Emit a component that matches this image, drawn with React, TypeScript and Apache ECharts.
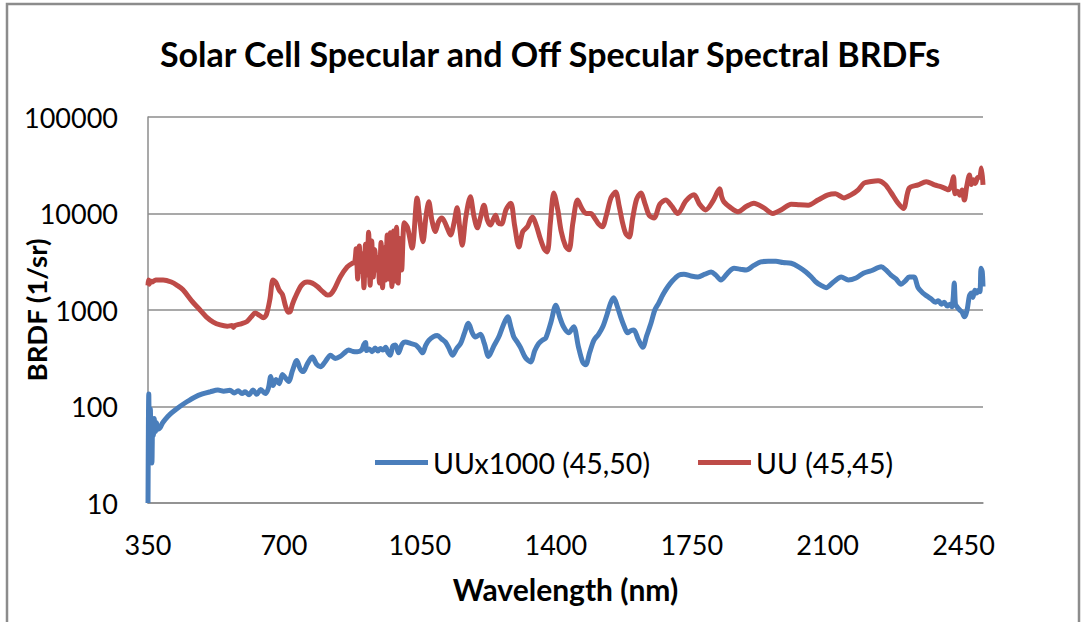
import React, { useEffect, useRef } from "react";
import * as echarts from "echarts";

const titleText = "Solar Cell Specular and Off Specular Spectral BRDFs";
const xAxisName = "Wavelength (nm)";
const yAxisName = "BRDF (1/sr)";
const xTicks = [350, 700, 1050, 1400, 1750, 2100, 2450];
const yTicks = [10, 100, 1000, 10000, 100000];
const blueName = "UUx1000 (45,50)";
const redName = "UU (45,45)";

const blueData: [number, number][] = [
  [350, 10], [351, 60], [352, 135], [353, 70], [355, 45], [356, 95], [358, 40], [360, 26], [362, 72], [364, 50],
  [366, 75], [369, 55], [372, 68], [376, 58], [381, 60], [388, 68], [395, 74], [405, 82], [420, 92], [432, 100],
  [450, 112], [470, 125], [490, 135], [510, 142], [530, 148], [545, 144], [561, 147], [572, 138], [582, 146], [592, 136],
  [600, 142], [610, 132], [620, 148], [630, 134], [640, 150], [652, 136], [660, 155], [666, 205], [672, 165], [680, 190],
  [688, 172], [696, 215], [703, 200], [712, 182], [722, 235], [733, 300], [742, 245], [750, 230], [760, 275], [773, 325],
  [784, 275], [794, 258], [806, 290], [820, 340], [832, 315], [845, 330], [856, 360], [866, 385], [878, 372], [889, 370],
  [900, 385], [906, 440], [910, 460], [913, 380], [920, 395], [927, 370], [935, 405], [942, 375], [948, 400], [955, 385],
  [962, 410], [968, 360], [974, 340], [980, 420], [987, 435], [995, 360], [1004, 440], [1013, 465], [1026, 450], [1039, 435],
  [1048, 400], [1057, 360], [1065, 430], [1073, 485], [1085, 530], [1095, 545], [1106, 500], [1116, 465], [1125, 400], [1134, 340],
  [1145, 400], [1155, 450], [1165, 580], [1175, 730], [1185, 580], [1193, 525], [1206, 560], [1216, 450], [1227, 330], [1240, 420],
  [1253, 525], [1265, 700], [1276, 850], [1285, 650], [1292, 525], [1300, 470], [1309, 410], [1322, 320], [1335, 290], [1346, 380],
  [1356, 450], [1366, 490], [1374, 510], [1388, 760], [1400, 1120], [1410, 850], [1420, 670], [1433, 580], [1446, 670], [1458, 420],
  [1469, 290], [1477, 270], [1487, 360], [1498, 485], [1510, 560], [1521, 670], [1532, 900], [1541, 1180], [1549, 1340], [1558, 1100],
  [1567, 850], [1576, 680], [1585, 580], [1593, 610], [1601, 620], [1612, 500], [1624, 410], [1634, 540], [1645, 730], [1655, 1000],
  [1665, 1180], [1676, 1450], [1688, 1730], [1700, 2000], [1717, 2300], [1730, 2350], [1748, 2250], [1766, 2200], [1784, 2350], [1800, 2470],
  [1812, 2300], [1825, 2050], [1842, 2400], [1859, 2700], [1875, 2650], [1890, 2600], [1910, 2900], [1928, 3150], [1947, 3200], [1967, 3200],
  [1985, 3100], [2006, 3050], [2025, 2800], [2044, 2480], [2058, 2200], [2070, 1950], [2083, 1800], [2096, 1700], [2115, 1950], [2135, 2200],
  [2153, 2050], [2173, 2150], [2192, 2400], [2212, 2550], [2238, 2800], [2250, 2600], [2263, 2300], [2276, 2100], [2289, 1850], [2300, 2000],
  [2310, 2200], [2322, 2200], [2333, 1700], [2345, 1500], [2355, 1400], [2367, 1300], [2378, 1200], [2385, 1250], [2393, 1150], [2400, 1200],
  [2408, 1100], [2415, 1150], [2420, 1080], [2423, 1300], [2426, 1900], [2429, 1150], [2433, 1080], [2440, 1000], [2446, 950], [2452, 850],
  [2456, 900], [2460, 1050], [2465, 1400], [2470, 1500], [2474, 1350], [2479, 1600], [2484, 1500], [2488, 1600], [2492, 1550], [2495, 2700],
  [2498, 2500], [2500, 1750],
];

const redData: [number, number][] = [
  [350, 1800], [351, 2050], [353, 1850], [356, 2000], [360, 1950], [370, 2050], [389, 2050], [410, 1950], [425, 1800], [440, 1620],
  [462, 1250], [484, 1000], [500, 850], [518, 750], [536, 700], [554, 680], [566, 690], [570, 660], [574, 690], [590, 720],
  [605, 760], [616, 850], [626, 930], [637, 880], [647, 830], [655, 900], [664, 1300], [672, 2050], [680, 1900], [688, 1600],
  [696, 1450], [704, 1100], [711, 950], [716, 960], [722, 1150], [729, 1350], [745, 1800], [760, 1950], [773, 1900], [786, 1750],
  [800, 1550], [812, 1430], [820, 1450], [830, 1650], [845, 2200], [863, 2800], [876, 3050], [882, 3100], [886, 4300], [890, 2100],
  [894, 4600], [898, 2500], [902, 3800], [906, 1700], [910, 4800], [914, 2300], [918, 6400], [922, 1800], [926, 5200], [930, 2200],
  [934, 4200], [938, 2600], [942, 3500], [946, 1900], [950, 5000], [954, 1700], [958, 4400], [962, 2050], [966, 6000], [970, 2100],
  [974, 6300], [978, 1750], [982, 6600], [986, 2000], [990, 7200], [994, 1900], [998, 5500], [1003, 2600], [1010, 8000], [1018, 7200],
  [1030, 4400], [1043, 14500], [1050, 8500], [1058, 5100], [1066, 9500], [1073, 13200], [1081, 8500], [1090, 6500], [1098, 8200], [1107, 9000],
  [1118, 7500], [1129, 6000], [1138, 8000], [1146, 11500], [1152, 7500], [1159, 4700], [1168, 9000], [1180, 14900], [1189, 9500], [1198, 7100],
  [1206, 9000], [1215, 12200], [1224, 8500], [1232, 7600], [1238, 8500], [1245, 9600], [1252, 8000], [1260, 7800], [1272, 11000], [1284, 12800],
  [1294, 7500], [1305, 4500], [1315, 6500], [1327, 7300], [1334, 8500], [1340, 9200], [1350, 7500], [1360, 5500], [1370, 4300], [1378, 4000],
  [1386, 8000], [1395, 16300], [1405, 11000], [1414, 6500], [1425, 4600], [1434, 4200], [1444, 8000], [1456, 13800], [1466, 11500], [1478, 10000],
  [1490, 10000], [1500, 9000], [1510, 7800], [1520, 7300], [1530, 9500], [1542, 14500], [1554, 16700], [1563, 12000], [1572, 8000], [1580, 6200],
  [1589, 5700], [1598, 9000], [1608, 14000], [1619, 16300], [1630, 12500], [1641, 9500], [1653, 9000], [1668, 12500], [1683, 13800], [1698, 12000],
  [1714, 10000], [1735, 13500], [1756, 15600], [1770, 12500], [1786, 10900], [1805, 13500], [1822, 18000], [1827, 15000], [1833, 13200], [1850, 11500],
  [1869, 10400], [1890, 11800], [1910, 12800], [1935, 11500], [1959, 10000], [1982, 11000], [2006, 12500], [2028, 12300], [2050, 12200], [2075, 13800],
  [2101, 15600], [2120, 16000], [2142, 14500], [2160, 15600], [2178, 17500], [2194, 20700], [2212, 21500], [2230, 21900], [2248, 20000], [2264, 16300],
  [2280, 13000], [2295, 11300], [2310, 18300], [2333, 19800], [2354, 21300], [2375, 19800], [2393, 18900], [2405, 18000], [2411, 17600], [2418, 19500],
  [2424, 24000], [2428, 16000], [2434, 17000], [2440, 15500], [2446, 17500], [2452, 13800], [2458, 19000], [2465, 25000], [2470, 20000], [2475, 22400],
  [2480, 20500], [2486, 23500], [2492, 24000], [2496, 29600], [2500, 19800],
];

const FONT = "Lato";

export default function App() {
  const ref = useRef<HTMLDivElement>(null);
  useEffect(() => {
    const chart = echarts.init(ref.current!, null, { renderer: "svg" });
    chart.setOption({
      animation: false,
      backgroundColor: "#ffffff",
      textStyle: { fontFamily: FONT },
      title: {
        text: titleText,
        left: 550,
        top: 36,
        padding: 0,
        textAlign: "center",
        textStyle: { fontSize: 34, fontWeight: "bold", color: "#000", fontFamily: FONT },
      },
      grid: { left: 148, right: 99, top: 117, bottom: 119, outerBoundsMode: "none", containLabel: false },
      legend: {
        data: [blueName, redName],
        left: 375,
        top: 448,
        padding: 0,
        icon: "rect",
        itemWidth: 53,
        itemHeight: 5,
        itemGap: 48,
        textStyle: { fontSize: 28.5, color: "#000", fontFamily: FONT, padding: [0, 0, 0, 0] },
      },
      xAxis: {
        type: "value",
        min: 350,
        max: 2500,
        interval: 350,
        name: xAxisName,
        nameLocation: "middle",
        nameGap: 71,
        nameMoveOverlap: false,
        nameTextStyle: { fontSize: 30, fontWeight: "bold", color: "#000", fontFamily: FONT },
        axisLine: { show: true, onZero: false, lineStyle: { color: "#8c8c8c", width: 1.5 } },
        axisTick: { show: false },
        splitLine: { show: false },
        axisLabel: {
          fontSize: 27,
          color: "#000",
          margin: 28,
          fontFamily: FONT,
          formatter: (v: number) => (xTicks.includes(Math.round(v)) ? String(Math.round(v)) : ""),
        },
      },
      yAxis: {
        type: "log",
        logBase: 10,
        min: yTicks[0],
        max: yTicks[yTicks.length - 1],
        name: yAxisName,
        nameLocation: "middle",
        nameGap: 98,
        nameMoveOverlap: false,
        nameTextStyle: { fontSize: 27.5, fontWeight: "bold", color: "#000", fontFamily: FONT },
        axisLine: { show: true, lineStyle: { color: "#8c8c8c", width: 1.5 } },
        axisTick: { show: false },
        splitLine: { show: true, lineStyle: { color: "#8c8c8c", width: 1.5 } },
        axisLabel: {
          fontSize: 27,
          color: "#000",
          margin: 30,
          fontFamily: FONT,
          formatter: (v: number) => String(Math.round(v)),
        },
      },
      series: [
        {
          name: blueName,
          type: "line",
          data: blueData,
          showSymbol: false,
          smooth: 0.3,
          lineStyle: { width: 5, color: "#4a7ebb" },
          itemStyle: { color: "#4a7ebb" },
        },
        {
          name: redName,
          type: "line",
          data: redData,
          showSymbol: false,
          smooth: 0.3,
          lineStyle: { width: 5, color: "#be4b48" },
          itemStyle: { color: "#be4b48" },
        },
      ],
      graphic: [
        {
          type: "rect",
          silent: true,
          z: -10,
          shape: { x: 7, y: 4, width: 1072, height: 700 },
          style: { fill: "none", stroke: "#8c8c8c", lineWidth: 2.5 },
        },
      ],
    });
    return () => chart.dispose();
  }, []);
  return (
    <div
      ref={ref}
      style={{ position: "absolute", left: 0, top: 0, width: 1082, height: 622 }}
    />
  );
}
